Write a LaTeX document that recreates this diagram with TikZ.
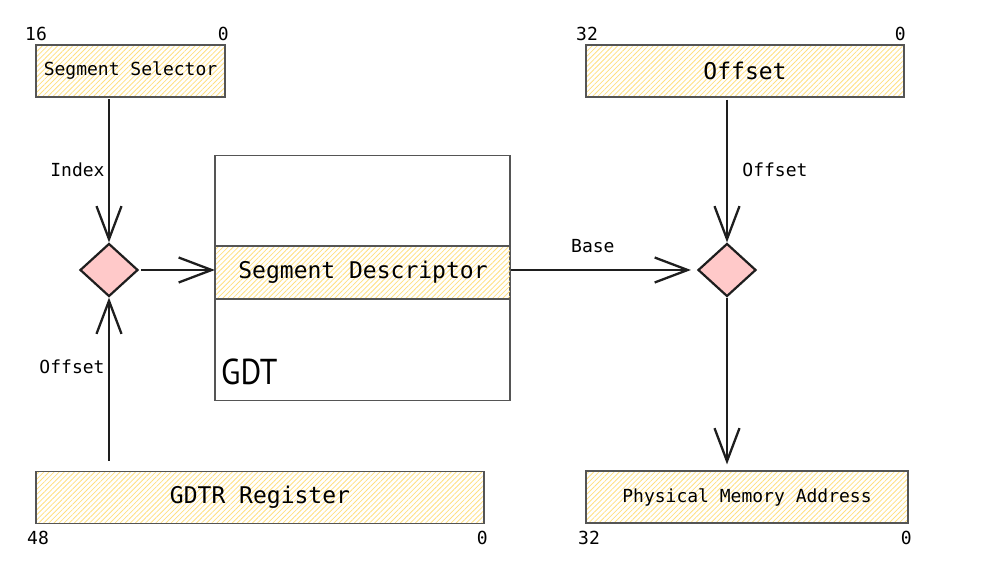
\documentclass[tikz,border=0pt]{standalone}
\usepackage{fontspec}
\setmonofont{DejaVu Sans Mono}
\newfontfamily\handfont{PT Sans}
\usetikzlibrary{arrows.meta, patterns.meta, shapes.geometric}

\definecolor{ink}{HTML}{1E1E1E}
\definecolor{frame}{HTML}{555555}
\definecolor{hatch}{HTML}{FFDF80}
\definecolor{junctionfill}{HTML}{FFC9C9}

\tikzset{
	field/.style = {draw = frame, line width = 1.2pt, pattern = {Lines[angle = 45, distance = 3.6pt, line width = 0.8pt]}, pattern color = hatch, minimum height = 52pt, inner sep = 0pt, font = \ttfamily\fontsize{23}{27}\selectfont},
	small/.style = {font = \ttfamily\fontsize{18}{21}\selectfont},
	bit/.style = {small, inner sep = 0pt},
	junction/.style = {diamond, draw = ink, line width = 2.2pt, fill = junctionfill, minimum width = 58pt, minimum height = 53pt, inner sep = 0pt},
	flow/.style = {draw = ink, line width = 2.3pt, -{Straight Barb[length = 33pt, width = 25pt, line width = 2.3pt]}}
}

\begin{document}
\begin{tikzpicture}[x = 1pt, y = -1pt]
	\useasboundingbox (0,0) rectangle (986,577);
	
	% register fields
	\node [field, small, minimum width = 189pt] (selector) at (130.5,71) {Segment Selector};
	\node [field, minimum width = 318pt] (offset) at (745,71) {Offset};
	\node [field, minimum width = 448pt] (gdtr) at (260,497.5) {GDTR Register};
	\node [field, small, minimum width = 322pt] (phys) at (747,497) {Physical Memory Address};
	
	% bit numbers
	\node [bit, anchor = west] (selhi) at (25,34) {16};
	\node [bit, anchor = east] (sello) at (229,34) {0};
	\node [bit, anchor = west] (offhi) at (576,34) {32};
	\node [bit, anchor = east] (offlo) at (906,34) {0};
	\node [bit, anchor = west] (gdtrhi) at (27,538) {48};
	\node [bit, anchor = east] (gdtrlo) at (488,538) {0};
	\node [bit, anchor = west] (physhi) at (578,538) {32};
	\node [bit, anchor = east] (physlo) at (912,538) {0};
	
	% table
	\node [draw = frame, line width = 1.2pt, minimum width = 295pt, minimum height = 245pt, inner sep = 0pt] (gdt) at (362.5,278) {};
	\node [field, minimum width = 295pt, minimum height = 53pt] (desc) at (363,272.5) {Segment Descriptor};
	\node [anchor = base west, inner sep = 0pt, font = \handfont\fontsize{36}{40}\selectfont] (gdtname) at (221,385) {\scalebox{0.88}[1]{GDT}};
	
	\node [junction] (pick) at (109,270) {};
	\node [junction] (sum) at (727,270) {};
	
	\begin{scope}[flow]
	\draw [shorten <= 2pt] (pick |- selector.south) -- (pick.north) node [midway, left, small] {Index};
	\draw [shorten <= 10pt] (pick |- gdtr.north) -- (pick.south) node [pos = 0.6, left, small] {Offset};
	\draw [shorten <= 2pt] (pick.east) -- (desc.west |- pick.east);
	\draw [shorten >= 6pt] (desc.east |- sum.west) -- (sum.west) node [pos = 0.44, above = 13pt, small] {Base};
	\draw [shorten <= 2pt] (sum |- offset.south) -- (sum.north) node [midway, right = 11pt, small] {Offset};
	\draw [shorten >= 6pt] (sum.south) -- (sum |- phys.north);
	\end{scope}
\end{tikzpicture}
\end{document}
